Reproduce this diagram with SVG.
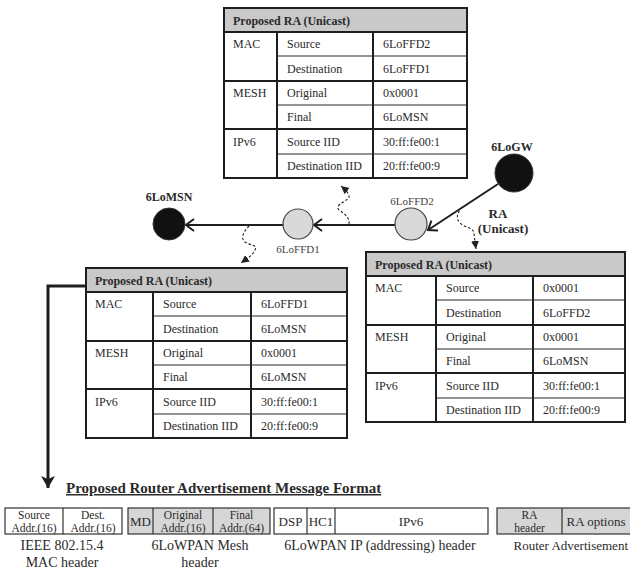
<svg xmlns="http://www.w3.org/2000/svg" width="630" height="575" viewBox="0 0 630 575">
  <style>
    text { font-family: "Liberation Serif", "Times New Roman", serif; fill: #2a2a2a; }
    .cell { font-size: 12px; }
    .head { font-size: 12px; font-weight: bold; }
    .hdrfill { fill: #c9c9c9; }
    .outer { fill: #ffffff; stroke: #1e1e1e; stroke-width: 2; }
    .grid { stroke: #1e1e1e; stroke-width: 2; fill: none; }
    .sub { stroke: #2a2a2a; stroke-width: 1.2; fill: none; }
    .node-dark { fill: #111111; stroke: #333333; stroke-width: 1; }
    .node-light { fill: #d9d9d9; stroke: #444444; stroke-width: 1.2; }
    .nlabel { font-size: 11px; fill: #444444; }
    .blabel { font-size: 12px; font-weight: bold; }
    .link { stroke: #1e1e1e; stroke-width: 2; fill: none; }
    .wave { stroke: #222222; stroke-width: 1.1; fill: none; stroke-dasharray: 2.5 2; }
    .box { stroke: #333333; stroke-width: 1.2; }
    .fmt { font-size: 11.5px; }
    .fmt1 { font-size: 13px; }
    .cap { font-size: 14px; }
  </style>
  <defs>
    <marker id="open" markerUnits="userSpaceOnUse" markerWidth="14" markerHeight="14" refX="10" refY="7" orient="auto">
      <path d="M2,1 L10,7 L2,13" fill="none" stroke="#1e1e1e" stroke-width="2"/>
    </marker>
    <marker id="tip" markerUnits="userSpaceOnUse" markerWidth="10" markerHeight="10" refX="8" refY="5" orient="auto">
      <path d="M0,1 L8,5 L0,9 Z" fill="#222222"/>
    </marker>
    <marker id="down" markerUnits="userSpaceOnUse" markerWidth="16" markerHeight="16" refX="12" refY="8" orient="auto">
      <path d="M0,1 L12,8 L0,15 L3,8 Z" fill="#1e1e1e"/>
    </marker>
  </defs>

  <!-- RA tables: header 24px, six rows, MAC/MESH/IPv6 groups span two rows each -->
  <g id="table-ffd2" transform="translate(224,8)">
    <rect class="outer" x="0" y="0" width="243" height="170"/>
    <rect class="hdrfill" x="1" y="1" width="241" height="23"/>
    <path class="grid" d="M0,24 H243 M0,73 H243 M0,121 H243 M53,24 V170 M149,24 V170"/>
    <path class="sub" d="M53,48 H243 M53,97 H243 M53,146 H243"/>
    <text class="head" x="9" y="16.5">Proposed RA (Unicast)</text>
    <text class="cell" x="9" y="40">MAC</text>
    <text class="cell" x="9" y="89">MESH</text>
    <text class="cell" x="9" y="137.5">IPv6</text>
    <text class="cell" x="63" y="40">Source</text>
    <text class="cell" x="63" y="64.5">Destination</text>
    <text class="cell" x="63" y="89">Original</text>
    <text class="cell" x="63" y="113">Final</text>
    <text class="cell" x="63" y="137.5">Source IID</text>
    <text class="cell" x="63" y="162">Destination IID</text>
    <text class="cell" x="159" y="40">6LoFFD2</text>
    <text class="cell" x="159" y="64.5">6LoFFD1</text>
    <text class="cell" x="159" y="89">0x0001</text>
    <text class="cell" x="159" y="113">6LoMSN</text>
    <text class="cell" x="159" y="137.5">30:ff:fe00:1</text>
    <text class="cell" x="159" y="162">20:ff:fe00:9</text>
  </g>

  <g id="table-gw" transform="translate(366,252)">
    <rect class="outer" x="0" y="0" width="259" height="170"/>
    <rect class="hdrfill" x="1" y="1" width="257" height="23"/>
    <path class="grid" d="M0,24 H259 M0,73 H259 M0,121 H259 M70,24 V170 M167,24 V170"/>
    <path class="sub" d="M70,48 H259 M70,97 H259 M70,146 H259"/>
    <text class="head" x="9" y="16.5">Proposed RA (Unicast)</text>
    <text class="cell" x="9" y="40">MAC</text>
    <text class="cell" x="9" y="89">MESH</text>
    <text class="cell" x="9" y="137.5">IPv6</text>
    <text class="cell" x="80" y="40">Source</text>
    <text class="cell" x="80" y="64.5">Destination</text>
    <text class="cell" x="80" y="89">Original</text>
    <text class="cell" x="80" y="113">Final</text>
    <text class="cell" x="80" y="137.5">Source IID</text>
    <text class="cell" x="80" y="162">Destination IID</text>
    <text class="cell" x="177" y="40">0x0001</text>
    <text class="cell" x="177" y="64.5">6LoFFD2</text>
    <text class="cell" x="177" y="89">0x0001</text>
    <text class="cell" x="177" y="113">6LoMSN</text>
    <text class="cell" x="177" y="137.5">30:ff:fe00:1</text>
    <text class="cell" x="177" y="162">20:ff:fe00:9</text>
  </g>

  <g id="table-ffd1" transform="translate(86,268)">
    <rect class="outer" x="0" y="0" width="261" height="170"/>
    <rect class="hdrfill" x="1" y="1" width="259" height="23"/>
    <path class="grid" d="M0,24 H261 M0,73 H261 M0,121 H261 M67,24 V170 M165,24 V170"/>
    <path class="sub" d="M67,48 H261 M67,97 H261 M67,146 H261"/>
    <text class="head" x="9" y="16.5">Proposed RA (Unicast)</text>
    <text class="cell" x="9" y="40">MAC</text>
    <text class="cell" x="9" y="89">MESH</text>
    <text class="cell" x="9" y="137.5">IPv6</text>
    <text class="cell" x="77" y="40">Source</text>
    <text class="cell" x="77" y="64.5">Destination</text>
    <text class="cell" x="77" y="89">Original</text>
    <text class="cell" x="77" y="113">Final</text>
    <text class="cell" x="77" y="137.5">Source IID</text>
    <text class="cell" x="77" y="162">Destination IID</text>
    <text class="cell" x="175" y="40">6LoFFD1</text>
    <text class="cell" x="175" y="64.5">6LoMSN</text>
    <text class="cell" x="175" y="89">0x0001</text>
    <text class="cell" x="175" y="113">6LoMSN</text>
    <text class="cell" x="175" y="137.5">30:ff:fe00:1</text>
    <text class="cell" x="175" y="162">20:ff:fe00:9</text>
  </g>

  <!-- connectors -->
  <g id="connectors">
    <line class="link" x1="498" y1="184" x2="428" y2="230" marker-end="url(#open)"/>
    <line class="link" x1="395" y1="225" x2="314" y2="225" marker-end="url(#open)"/>
    <line class="link" x1="283" y1="225" x2="186" y2="225" marker-end="url(#open)"/>
    <path class="wave" d="M349,224 C350,218 345,214 339,210 C335,206 342,203 348,199 C351,196 347,191 341,186" marker-end="url(#tip)"/>
    <path class="wave" d="M462,207 C458,212 455,218 460,223 C465,228 474,227 474,234 L476,249" marker-end="url(#tip)"/>
    <path class="wave" d="M249,226 C244,231 240,238 245,242 C250,246 258,244 255,250 C253,255 248,258 241,263" marker-end="url(#tip)"/>
    <path d="M86,286 H48 V488" fill="none" stroke="#1e1e1e" stroke-width="3" marker-end="url(#down)"/>
  </g>

  <!-- nodes -->
  <g id="node-6logw">
    <circle class="node-dark" cx="514" cy="173" r="19"/>
    <text class="blabel" x="512" y="151" text-anchor="middle">6LoGW</text>
  </g>
  <g id="label-ra">
    <text x="498" y="218" text-anchor="middle" font-size="13" font-weight="bold">RA</text>
    <text x="503" y="233" text-anchor="middle" font-size="13" font-weight="bold">(Unicast)</text>
  </g>
  <g id="node-6loffd2">
    <circle class="node-light" cx="411" cy="224" r="16"/>
    <text class="nlabel" x="412" y="205" text-anchor="middle">6LoFFD2</text>
  </g>
  <g id="node-6loffd1">
    <circle class="node-light" cx="298" cy="224" r="15"/>
    <text class="nlabel" x="298" y="253" text-anchor="middle">6LoFFD1</text>
  </g>
  <g id="node-6lomsn">
    <circle class="node-dark" cx="169" cy="224" r="16"/>
    <text class="blabel" x="169" y="201" text-anchor="middle">6LoMSN</text>
  </g>

  <!-- message format -->
  <g id="format-title">
    <text x="66" y="493" font-size="15" font-weight="bold" text-decoration="underline">Proposed Router Advertisement Message Format</text>
  </g>

  <g id="mac-header">
    <rect class="box" x="5" y="508" width="117" height="26" fill="#ffffff"/>
    <line class="box" x1="63" y1="508" x2="63" y2="534"/>
    <text class="fmt" x="34" y="518.5" text-anchor="middle">Source</text>
    <text class="fmt" x="34" y="531.5" text-anchor="middle">Addr.(16)</text>
    <text class="fmt" x="93" y="518.5" text-anchor="middle">Dest.</text>
    <text class="fmt" x="93" y="531.5" text-anchor="middle">Addr.(16)</text>
    <text class="cap" x="62" y="550" text-anchor="middle">IEEE 802.15.4</text>
    <text class="cap" x="62" y="567" text-anchor="middle">MAC header</text>
  </g>

  <g id="mesh-header">
    <rect class="box" x="128" y="508" width="142" height="26" fill="#d6d6d6"/>
    <line class="box" x1="153" y1="508" x2="153" y2="534"/>
    <line class="box" x1="213" y1="508" x2="213" y2="534"/>
    <text class="fmt1" x="140.5" y="525.5" text-anchor="middle">MD</text>
    <text class="fmt" x="183" y="518.5" text-anchor="middle">Original</text>
    <text class="fmt" x="183" y="531.5" text-anchor="middle">Addr.(16)</text>
    <text class="fmt" x="241.5" y="518.5" text-anchor="middle">Final</text>
    <text class="fmt" x="241.5" y="531.5" text-anchor="middle">Addr.(64)</text>
    <text class="cap" x="200" y="550" text-anchor="middle">6LoWPAN Mesh</text>
    <text class="cap" x="200" y="567" text-anchor="middle">header</text>
  </g>

  <g id="ip-header">
    <rect class="box" x="274" y="508" width="214" height="26" fill="#ffffff"/>
    <line class="box" x1="307" y1="508" x2="307" y2="534"/>
    <line class="box" x1="335" y1="508" x2="335" y2="534"/>
    <text class="fmt1" x="290.5" y="525.5" text-anchor="middle">DSP</text>
    <text class="fmt1" x="321" y="525.5" text-anchor="middle">HC1</text>
    <text class="fmt1" x="411" y="525.5" text-anchor="middle">IPv6</text>
    <text class="cap" x="380" y="550" text-anchor="middle">6LoWPAN IP (addressing) header</text>
  </g>

  <g id="ra-message">
    <rect class="box" x="497" y="508" width="140" height="26" fill="#d6d6d6"/>
    <line class="box" x1="562" y1="508" x2="562" y2="534"/>
    <text class="fmt" x="529.5" y="518.5" text-anchor="middle">RA</text>
    <text class="fmt" x="529.5" y="531.5" text-anchor="middle">header</text>
    <text class="fmt1" x="596" y="525.5" text-anchor="middle">RA options</text>
    <text x="628" y="550" text-anchor="end" font-size="13">Router Advertisement</text>
  </g>
</svg>
